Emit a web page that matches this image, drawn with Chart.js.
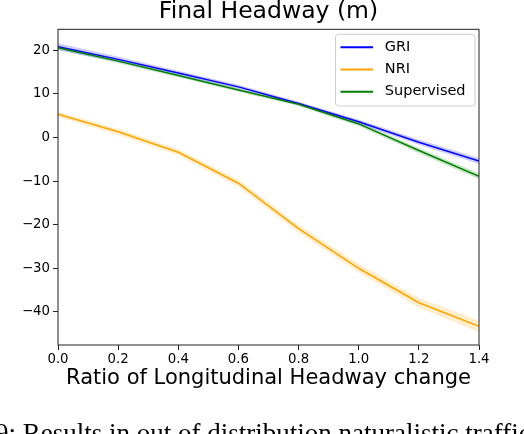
<!DOCTYPE html>
<html>
<head>
<meta charset="utf-8">
<script src="https://cdn.jsdelivr.net/npm/chart.js@4.4.1/dist/chart.umd.min.js"></script>
<style>
  body { margin: 0; background: #fff; overflow: hidden; }
  #wrap { position: relative; width: 524px; height: 434px; overflow: hidden; }
  #caption {
    position: absolute; left: -5px; top: 420px; white-space: nowrap;
    font-family: "Liberation Serif", serif; font-size: 27px; line-height: 27px; color: #000;
  }
</style>
</head>
<body>
<div id="wrap">
  <canvas id="ChartHeadway" width="524" height="434"></canvas>
  <div id="caption">9: Results in out of distribution naturalistic traffic scenarios</div>
</div>
<script>
const ratios = [0.0, 0.2, 0.4, 0.6, 0.8, 1.0, 1.2, 1.4];

const griMean = [20.8, 17.9, 14.8, 11.6, 7.8, 3.6, -1.1, -5.4];
const nriMean = [5.3, 1.3, -3.4, -10.5, -20.9, -30.0, -37.9, -43.3];
const supMean = [20.6, 17.5, 14.2, 10.9, 7.6, 3.1, -3.0, -8.9];

const griSpread = [0.8, 0.6, 0.5, 0.5, 0.4, 0.5, 0.6, 0.7];
const nriSpread = [0.6, 0.7, 0.7, 0.8, 0.9, 1.0, 1.1, 1.3];
const supSpread = [0.5, 0.5, 0.4, 0.4, 0.4, 0.5, 0.6, 0.7];

const xTicks = [0.0, 0.2, 0.4, 0.6, 0.8, 1.0, 1.2, 1.4];
const yTicks = [-40, -30, -20, -10, 0, 10, 20];

const seriesNames = ['GRI', 'NRI', 'Supervised'];
const seriesColors = ['#0000ff', '#ffa500', '#008000'];
const bandColors = ['rgba(0,0,255,0.2)', 'rgba(255,165,0,0.2)', 'rgba(0,128,0,0.2)'];

const means = [griMean, nriMean, supMean];
const spreads = [griSpread, nriSpread, supSpread];

const datasets = [];
means.forEach((m, i) => {
    const lower = m.map((v, k) => ({x: ratios[k], y: v - spreads[i][k]}));
    const upper = m.map((v, k) => ({x: ratios[k], y: v + spreads[i][k]}));
    datasets.push({
        data: lower, borderWidth: 0, pointRadius: 0, fill: false, order: 10
    });
    datasets.push({
        data: upper, borderWidth: 0, pointRadius: 0, fill: '-1',
        backgroundColor: bandColors[i], order: 10
    });
});
means.forEach((m, i) => {
    datasets.push({
        label: seriesNames[i],
        data: m.map((v, k) => ({x: ratios[k], y: v})),
        borderColor: seriesColors[i],
        borderWidth: 1.5,
        pointRadius: 0,
        fill: false,
        order: 3 - i
    });
});

// box round the plot and the legend in its upper right corner
const framePlugin = {
    id: 'frame',
    afterDraw(chart) {
        const ctx = chart.ctx;
        const a = chart.chartArea;
        ctx.save();
        ctx.strokeStyle = '#222';
        ctx.lineWidth = 1;
        ctx.strokeRect(a.left, a.top, a.right - a.left, a.bottom - a.top);

        const bx = a.right - 143.5, by = a.top + 5, bw = 139.6, bh = 71.7;
        ctx.beginPath();
        ctx.roundRect(bx, by, bw, bh, 3);
        ctx.fillStyle = 'rgba(255,255,255,0.8)';
        ctx.fill();
        ctx.strokeStyle = '#cccccc';
        ctx.stroke();

        ctx.font = '14.5px "DejaVu Sans"';
        ctx.textBaseline = 'middle';
        seriesNames.forEach((name, i) => {
            const y = by + 13 + i * 22.2;
            ctx.beginPath();
            ctx.moveTo(bx + 5, y);
            ctx.lineTo(bx + 37.6, y);
            ctx.strokeStyle = seriesColors[i];
            ctx.lineWidth = 2;
            ctx.stroke();
            ctx.fillStyle = '#000';
            ctx.fillText(name, bx + 49.3, y);
        });
        ctx.restore();
    }
};

new Chart(document.getElementById('ChartHeadway'), {
    type: 'line',
    data: { datasets: datasets },
    plugins: [framePlugin],
    options: {
        responsive: false,
        animation: false,
        layout: { padding: { left: 13, right: 0, top: 0, bottom: 43 } },
        plugins: {
            legend: { display: false },
            tooltip: { enabled: false },
            title: {
                display: true,
                text: 'Final Headway (m)',
                color: '#000',
                font: { family: 'DejaVu Sans', size: 23.5, weight: 'normal', lineHeight: 1.0 },
                padding: { top: 0, bottom: 5.8 }
            }
        },
        scales: {
            x: {
                type: 'linear',
                min: 0,
                max: 1.4,
                afterFit: s => { s.height = 46; },
                afterBuildTicks: s => { s.ticks = xTicks.map(v => ({value: v})); },
                grid: { drawOnChartArea: false, drawTicks: true, tickLength: 5, color: '#222' },
                border: { display: false },
                ticks: {
                    color: '#000',
                    padding: 2,
                    maxRotation: 0,
                    font: { family: 'DejaVu Sans', size: 13.3 },
                    callback: v => v.toFixed(1)
                },
                title: {
                    display: true,
                    text: 'Ratio of Longitudinal Headway change',
                    color: '#000',
                    padding: 0,
                    font: { family: 'DejaVu Sans', size: 21 }
                }
            },
            y: {
                min: -47.6,
                max: 24.8,
                afterFit: s => { s.width = 45; },
                afterBuildTicks: s => { s.ticks = yTicks.map(v => ({value: v})); },
                grid: { drawOnChartArea: false, drawTicks: true, tickLength: 5, color: '#222' },
                border: { display: false },
                ticks: {
                    color: '#000',
                    padding: 3,
                    font: { family: 'DejaVu Sans', size: 13.3 },
                    callback: v => (v < 0 ? '\u2212' + Math.abs(v) : '' + v)
                }
            },
            // empty margin on the right so the title sits over the plot
            yRight: {
                position: 'right',
                afterFit: s => { s.width = 45; },
                grid: { display: false },
                border: { display: false },
                ticks: { display: false }
            }
        }
    }
});
</script>
</body>
</html>
